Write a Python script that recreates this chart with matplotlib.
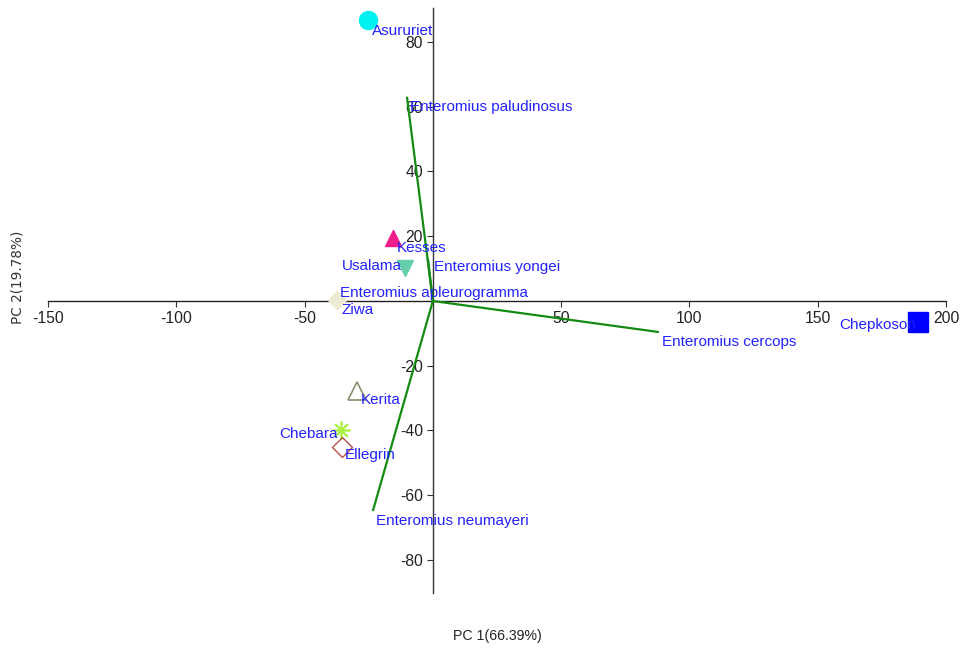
import matplotlib
matplotlib.use("Agg")
import matplotlib.pyplot as plt

# PCA biplot: site scores (points) and species loadings (vectors)
sites = ["Asururiet", "Kesses", "Usalama", "Ziwa", "Kerita", "Chebara", "Ellegrin", "Chepkoson"]
site_pc1 = [-25.3, -15.6, -10.9, -37.4, -29.6, -35.9, -35.5, 189.0]
site_pc2 = [86.9, 19.5, 10.2, 0.3, -27.8, -39.9, -45.1, -6.5]

species = ["Enteromius paludinosus", "Enteromius yongei", "Enteromius apleurogramma",
           "Enteromius cercops", "Enteromius neumayeri"]
species_pc1 = [-10.1, -1.9, 0.3, 88.1, -23.4]
species_pc2 = [63.1, 13.0, 0.4, -9.6, -64.9]

x_ticks = [-150, -100, -50, 50, 100, 150, 200]
y_ticks = [-80, -60, -40, -20, 20, 40, 60, 80]
x_label = "PC 1(66.39%)"
y_label = "PC 2(19.78%)"

# marker styles per site
site_styles = [
    dict(marker="o", ms=13, mfc="#00F0F0", mec="#00F0F0"),
    dict(marker="^", ms=12, mfc="#F01C8C", mec="#F01C8C"),
    dict(marker="v", ms=12, mfc="#66CDAA", mec="#66CDAA"),
    dict(marker="D", ms=9, mfc="#EEEBD2", mec="#EEEBD2"),
    dict(marker="^", ms=13, mfc="none", mec="#8C8C6E", mew=1.2),
    dict(marker=(8, 2, 0), ms=13, mfc="#A8F040", mec="#A8F040", mew=1.2),
    dict(marker="D", ms=10, mfc="none", mec="#B8504E", mew=1.0),
    dict(marker="s", ms=14, mfc="#0000FF", mec="#0000FF"),
]
# label placement: (dx, dy) in points, ha, va
site_label_pos = [
    (3, -3, "left", "top"), (3, -2.5, "left", "top"), (-2, 1.5, "right", "center"),
    (3, -2, "left", "top"), (3, -1.5, "left", "top"), (-2, -2.5, "right", "center"),
    (2, -0.5, "left", "top"), (-1, -2, "right", "center"),
]
species_label_pos = [
    (2, -2.5, "left", "top"), (4, -1, "left", "top"), (0, 5, "center", "center"),
    (2, -2, "left", "top"), (2, -2, "left", "top"),
]

label_font = "Liberation Sans"
label_size = 11

fig = plt.figure(figsize=(9.62, 6.49), dpi=100)
ax = fig.add_axes([48 / 962, 56 / 649, 898 / 962, 585 / 649])
ax.set_xlim(-150, 200)
ax.set_ylim(-90.2, 90.5)

for s in ["top", "right"]:
    ax.spines[s].set_visible(False)
ax.spines["left"].set_position(("data", 0))
ax.spines["bottom"].set_position(("data", 0))
ax.spines["left"].set_color("#333333")
ax.spines["bottom"].set_color("#222222")
ax.spines["left"].set_linewidth(1.0)
ax.spines["bottom"].set_linewidth(1.0)

ax.set_xticks(x_ticks)
ax.set_yticks(y_ticks)
ax.set_xticklabels([str(t) for t in x_ticks])
ax.set_yticklabels([str(t) for t in y_ticks])
ax.tick_params(axis="both", direction="out", length=4, width=0.8, colors="#333333",
               labelsize=11.3, labelcolor="#222222", pad=3)
for t in ax.get_xticklabels() + ax.get_yticklabels():
    t.set_fontfamily(label_font)

# species loading vectors
for name, x, y, (dx, dy, ha, va) in zip(species, species_pc1, species_pc2, species_label_pos):
    ax.plot([0, x], [0, y], color="#138A13", lw=1.6, zorder=3, solid_capstyle="butt")
    ax.annotate(name, (x, y), xytext=(dx, dy), textcoords="offset points", ha=ha, va=va,
                color="#2222FF", fontsize=label_size, family=label_font, zorder=5)

# site scores
for name, x, y, st, (dx, dy, ha, va) in zip(sites, site_pc1, site_pc2, site_styles, site_label_pos):
    ax.plot([x], [y], linestyle="none", zorder=4, **st)
    ax.annotate(name, (x, y), xytext=(dx, dy), textcoords="offset points", ha=ha, va=va,
                color="#2222FF", fontsize=label_size, family=label_font, zorder=5)

fig.text(497 / 962, 1 - 636 / 649, x_label, ha="center", va="center", fontsize=10.2,
         family=label_font, color="#222222")
fig.text(18 / 962, 1 - 277 / 649, y_label, ha="center", va="center", rotation=90,
         fontsize=9.8, family="DejaVu Sans", color="#333333")

fig.savefig("out.png", dpi=100)
